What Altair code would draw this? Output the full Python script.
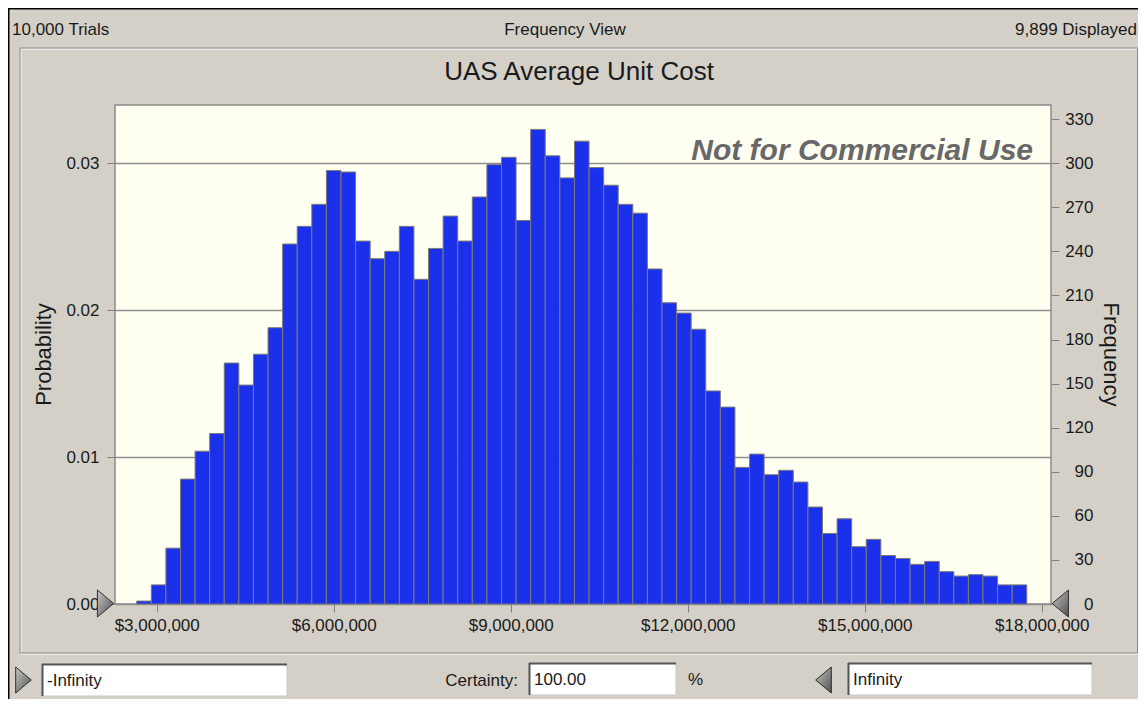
import altair as alt
import pandas as pd

# ---------------- data ----------------
freq = [2, 13, 38, 85, 104, 116, 164, 149, 170, 188,
        245, 257, 272, 295, 294, 247, 235, 240, 257, 221,
        242, 264, 247, 277, 299, 304, 261, 323, 305, 290,
        315, 297, 285, 272, 266, 228, 205, 198, 187, 145,
        134, 93, 102, 88, 91, 83, 66, 48, 58, 39,
        44, 33, 31, 27, 29, 22, 19, 20, 19, 13, 13]
bin_first = 2_661_000
bin_width = 247_300
trials = 10000
x_ticks = [3_000_000, 6_000_000, 9_000_000, 12_000_000, 15_000_000, 18_000_000]
prob_ticks = [0.0, 0.01, 0.02, 0.03]
freq_ticks = [0, 30, 60, 90, 120, 150, 180, 210, 240, 270, 300, 330]
x_domain = [2_293_000, 18_157_000]
freq_domain = [0, 339.6]

lo = [bin_first + i * bin_width for i in range(len(freq))]
df = pd.DataFrame({
    "lo": lo,
    "hi": [v + bin_width for v in lo],
    "freq": freq,
    "prob": [f / trials for f in freq],
})

FONT = "Liberation Sans"
W, H = 936, 499
BG = "#D4D0C8"
TXT = "#1a1a1a"

one = pd.DataFrame({"k": [0]})


def text(s, x, y, size=16, align="left", **kw):
    return alt.Chart(one).mark_text(
        text=s, align=align, baseline="middle", fontSize=size, font=FONT,
        color=kw.pop("color", TXT), **kw
    ).encode(x=alt.value(x), y=alt.value(y))


def box(x0, x1, y0, y1, **kw):
    return alt.Chart(one).mark_rect(**kw).encode(
        x=alt.value(x0), x2=alt.value(x1), y=alt.value(y0), y2=alt.value(y1))


def rule(x0, x1, y0, y1, color, width=1):
    return alt.Chart(one).mark_rule(color=color, strokeWidth=width).encode(
        x=alt.value(x0), x2=alt.value(x1), y=alt.value(y0), y2=alt.value(y1))


grad = alt.LinearGradient(
    gradient="linear",
    stops=[alt.GradientStop(color="#C8C8C8", offset=0),
           alt.GradientStop(color="#505050", offset=1)],
    x1=0, x2=1, y1=0, y2=1,
)
RIGHT_TRI = "M-0.6,-1L0.6,0L-0.6,1Z"
LEFT_TRI = "M0.6,-1L-0.6,0L0.6,1Z"


def tri(shape, x, y, size=729):
    return alt.Chart(one).mark_point(
        shape=shape, size=size, filled=True, fill=grad, stroke="#2E2E2E",
        strokeWidth=1, opacity=1
    ).encode(x=alt.value(x), y=alt.value(y))


x_scale = alt.Scale(domain=x_domain, nice=False, zero=False)

# probability axis (left) with grid
prob_layer = alt.Chart(df).mark_point(opacity=0).encode(
    x=alt.X("lo:Q", scale=x_scale, title=None,
            axis=alt.Axis(values=x_ticks, format="$,.0f", tickSize=8, labelPadding=5,
                          labelFontSize=17, labelFont=FONT, labelColor=TXT,
                          tickColor="#808080", domain=False, grid=False,
                          labelOverlap=False, labelFlush=False)),
    y=alt.Y("prob:Q", scale=alt.Scale(domain=[0, freq_domain[1] / trials], nice=False),
            axis=alt.Axis(orient="left", values=prob_ticks, format=".2f", tickSize=8,
                          labelPadding=8, labelFontSize=17, labelFont=FONT, labelColor=TXT,
                          tickColor="#808080", domain=False, grid=True,
                          gridColor="#8E8E8E", gridWidth=1.5, labelOverlap=False,
                          labelFlush=False, title="Probability", titleAngle=270,
                          titleX=-72, titleY=249, titleFontSize=22, titleFont=FONT,
                          titleFontWeight="normal", titleColor=TXT,
                          titleAlign="center", titleBaseline="middle")),
)

bars = alt.Chart(df).mark_bar(fill="#1B30EB", stroke="#7A7A7A", strokeWidth=1).encode(
    x=alt.X("lo:Q", scale=x_scale),
    x2="hi:Q",
    y=alt.Y("freq:Q", stack=None, scale=alt.Scale(domain=freq_domain, nice=False),
            axis=alt.Axis(orient="right", values=freq_ticks, tickSize=8, labelAlign="right",
                          labelPadding=34, labelFontSize=17, labelFont=FONT, labelColor=TXT,
                          tickColor="#808080", domain=False, grid=False,
                          labelOverlap=False, labelFlush=False, title="Frequency",
                          titleAngle=90, titleX=59, titleY=249, titleFontSize=22,
                          titleFont=FONT, titleFontWeight="normal", titleColor=TXT,
                          titleAlign="center", titleBaseline="middle")),
    y2=alt.datum(0),
)

watermark = alt.Chart(one).mark_text(
    text="Not for Commercial Use", align="right", baseline="alphabetic", fontSize=30,
    font=FONT, fontWeight="bold", fontStyle="italic", color="#686868"
).encode(x=alt.value(918), y=alt.value(55))

decor = [
    # outer window edge
    rule(-106.5, -106.5, -97, 594, "#000000", 2),
    rule(-107, 1023, -96.5, -96.5, "#000000", 2),
    # etched panel border
    box(-94, 1023.5, -56, 549, fillOpacity=0, stroke="#FFFFFF", strokeWidth=1),
    box(-95, 1022.5, -57, 548, fillOpacity=0, stroke="#8A8A8A", strokeWidth=1),
    # header
    text("10,000 Trials", -103, -75, 17),
    text("Frequency View", 450, -75, 17, align="center"),
    text("9,899 Displayed", 1022, -75, 17, align="right"),
    text("UAS Average Unit Cost", 464, -33, 26, align="center"),
    # slider triangles on the chart
    tri(RIGHT_TRI, -9.5, 498.5),
    tri(LEFT_TRI, 945.3, 498.5),
    # bottom controls
    tri(RIGHT_TRI, -91.5, 575, 676),
    box(-73, 172, 559, 591, fill="#FFFFFF", stroke="#C8C8C8", strokeWidth=1),
    rule(-73, 172, 559.5, 559.5, "#555555", 2),
    rule(-72.5, -72.5, 559, 591, "#555555", 2),
    text("-Infinity", -68, 576, 17),
    text("Certainty:", 403, 576, 17, align="right"),
    box(414, 561, 558, 590, fill="#FFFFFF", stroke="#C8C8C8", strokeWidth=1),
    rule(414, 561, 558.5, 558.5, "#555555", 2),
    rule(414.5, 414.5, 558, 590, "#555555", 2),
    text("100.00", 419, 575, 17),
    text("%", 573, 575, 17),
    tri(LEFT_TRI, 708.5, 575, 676),
    box(733, 977, 558, 590, fill="#FFFFFF", stroke="#C8C8C8", strokeWidth=1),
    rule(733, 977, 558.5, 558.5, "#555555", 2),
    rule(733.5, 733.5, 558, 590, "#555555", 2),
    text("Infinity", 738, 575, 17),
]

chart = alt.layer(prob_layer, bars, watermark, *decor).resolve_scale(
    y="independent"
).properties(
    width=W, height=H,
    autosize=alt.AutoSizeParams(type="none"),
    padding={"left": 107, "top": 97, "right": 87, "bottom": 95},
    background=BG,
).configure_view(
    fill="#FFFFF2", stroke="#8A8A8A", strokeWidth=1.5
)

chart.save("out.html", embed_options={"renderer": "svg", "actions": False})
